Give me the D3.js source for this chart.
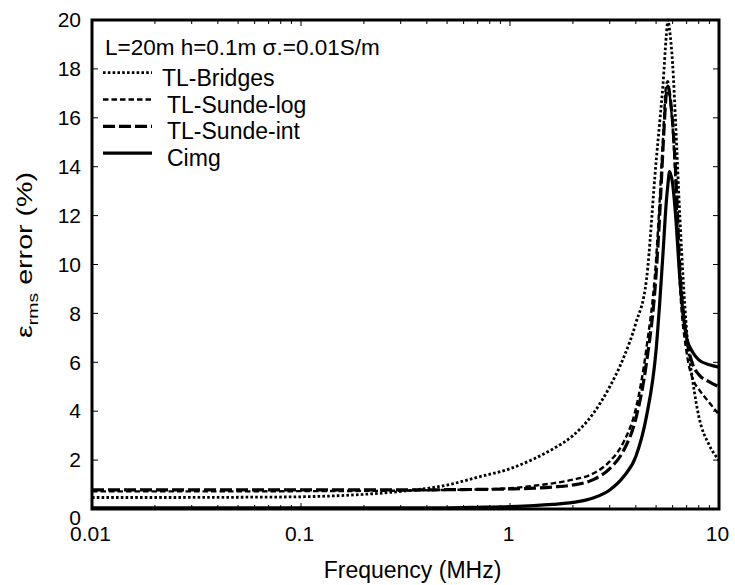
<!DOCTYPE html>
<html>
<head>
<meta charset="UTF-8">
<title>rms error vs frequency</title>
<script src="https://cdn.jsdelivr.net/npm/d3@7"></script>
<style>
  body { margin: 0; background: #fff; }
  text { font-family: Arial, "Liberation Sans", sans-serif; fill: #000; }
</style>
</head>
<body>
<script>
// frequency grid (MHz), shared by all curves
var freq = [0.01, 0.02, 0.05, 0.1, 0.2, 0.3, 0.5, 0.7, 1, 1.3, 1.6, 2, 2.5, 3, 3.5, 4, 4.5,
            5, 5.2, 5.4, 5.6, 5.7, 5.8, 6.0, 6.2, 6.5, 7, 7.5, 8, 9, 10];

// rms error (%)
var bridges  = [0.47, 0.47, 0.48, 0.5, 0.6, 0.72, 0.98, 1.3, 1.65, 2.05, 2.45, 3.0, 3.9, 5.0, 6.2, 7.6, 9.4,
                14.2, 15.8, 17.4, 19.4, 20.0, 19.6, 18.2, 15.8, 11.9, 7.3, 5.2, 3.8, 2.6, 2.0];
var sundeLog = [0.72, 0.72, 0.72, 0.73, 0.74, 0.75, 0.78, 0.8, 0.85, 0.95, 1.05, 1.2, 1.45, 1.95, 2.75, 4.1, 6.6,
                10.2, 12.6, 15.2, 17.4, 17.5, 17.0, 15.6, 13.4, 9.2, 6.4, 5.3, 4.9, 4.35, 3.85];
var sundeInt = [0.78, 0.78, 0.78, 0.78, 0.78, 0.78, 0.79, 0.8, 0.82, 0.85, 0.9, 0.98, 1.2, 1.65, 2.4, 3.7, 6.0,
                9.6, 12.0, 14.8, 17.0, 17.3, 17.0, 15.8, 13.8, 9.8, 7.0, 5.9, 5.5, 5.2, 5.0];
var cimg     = [0.05, 0.05, 0.05, 0.05, 0.05, 0.05, 0.05, 0.07, 0.1, 0.14, 0.19, 0.27, 0.45, 0.78, 1.33, 2.15, 3.8,
                6.5, 8.4, 10.5, 12.6, 13.3, 13.8, 13.3, 12.0, 9.4, 7.0, 6.4, 6.1, 5.9, 5.8];

var names = ["TL-Bridges", "TL-Sunde-log", "TL-Sunde-int", "Cimg"];
var yTicks = [0, 2, 4, 6, 8, 10, 12, 14, 16, 18, 20];
var xLabels = [0.01, 0.1, 1, 10];

var W = 735, H = 585;
var mL = 92, mR = 719, mT = 20, mB = 509;

var svg = d3.select("body").append("svg")
    .attr("width", W)
    .attr("height", H);

var x = d3.scaleLog().domain([0.01, 10]).range([mL, mR]);
var y = d3.scaleLinear().domain([0, 20]).range([mB, mT]);

// line styles
var styles = [
  { w: 2.8, dash: "2.6,2.2" },
  { w: 2.4, dash: "5.5,3" },
  { w: 3.2, dash: "12,4" },
  { w: 3.2, dash: null }
];
var series = [bridges, sundeLog, sundeInt, cimg];

var allX = x.ticks();
var fmt = function (d) { return xLabels.indexOf(d) >= 0 ? String(d) : ""; };

var gx = svg.append("g").attr("transform", "translate(0," + mB + ")")
    .call(d3.axisBottom(x).tickValues(allX).tickSize(0).tickFormat(fmt).tickPadding(24));
var gy = svg.append("g").attr("transform", "translate(" + mL + ",0)")
    .call(d3.axisLeft(y).tickValues(yTicks).tickSize(0).tickPadding(11));

[gx, gy].forEach(function (g) {
  g.select(".domain").remove();
  g.selectAll("text").style("font-size", "21px").style("font-family", "Arial, 'Liberation Sans', sans-serif");
});
gx.selectAll("text").attr("dy", "0.4em").attr("transform", "translate(-2,0)");
gy.selectAll(".tick").filter(function (d) { return d === 0; }).select("text").attr("dy", "0.75em");

// tick marks drawn inward on all four sides
function major(d) { return xLabels.indexOf(d) >= 0; }
var tk = svg.append("g").attr("stroke", "#000").attr("stroke-width", 1);
allX.forEach(function (d) {
  var len = major(d) ? 6 : 4;
  tk.append("line").attr("x1", x(d)).attr("x2", x(d)).attr("y1", mB).attr("y2", mB - len);
  tk.append("line").attr("x1", x(d)).attr("x2", x(d)).attr("y1", mT).attr("y2", mT + len);
});
yTicks.forEach(function (d) {
  tk.append("line").attr("y1", y(d)).attr("y2", y(d)).attr("x1", mL).attr("x2", mL + 6);
  tk.append("line").attr("y1", y(d)).attr("y2", y(d)).attr("x1", mR).attr("x2", mR - 6);
});

// curves
var line = d3.line()
    .x(function (d, i) { return x(freq[i]); })
    .y(function (d) { return y(d); })
    .curve(d3.curveMonotoneX);

svg.append("defs").append("clipPath").attr("id", "clip")
  .append("rect").attr("x", mL).attr("y", mT - 2).attr("width", mR - mL).attr("height", mB - mT + 2);

svg.append("g").attr("clip-path", "url(#clip)")
  .selectAll("path").data(series).enter().append("path")
    .attr("d", line)
    .attr("fill", "none")
    .attr("stroke", "#000")
    .attr("stroke-width", function (d, i) { return styles[i].w; })
    .attr("stroke-dasharray", function (d, i) { return styles[i].dash; });

// frame
svg.append("rect")
    .attr("x", mL).attr("y", mT)
    .attr("width", mR - mL).attr("height", mB - mT)
    .attr("fill", "none").attr("stroke", "#000").attr("stroke-width", 3);

// legend
svg.append("text").attr("x", 105).attr("y", 55).style("font-size", "22.5px")
    .text("L=20m h=0.1m σ.=0.01S/m");

var lg = svg.append("g");
names.forEach(function (n, i) {
  var ly = 72.7 + i * 26.8;
  lg.append("line").attr("x1", 103).attr("x2", 152).attr("y1", ly).attr("y2", ly)
    .attr("stroke", "#000")
    .attr("stroke-width", styles[i].w)
    .attr("stroke-dasharray", styles[i].dash);
  lg.append("text").attr("x", i === 0 ? 162 : 167).attr("y", ly + 13)
    .style("font-size", "23px").text(n);
});

// axis titles
svg.append("text").attr("x", (mL + mR) / 2 + 7).attr("y", 578)
    .attr("text-anchor", "middle").style("font-size", "23px")
    .text("Frequency (MHz)");

var yt = svg.append("text")
    .attr("transform", "translate(32,255)rotate(-90)scale(1.3,1)")
    .attr("text-anchor", "middle").style("font-size", "22px");
yt.append("tspan").text("ε");
yt.append("tspan").attr("dy", 6).style("font-size", "15px").text("rms");
yt.append("tspan").attr("dy", -6).text(" error (%)");
</script>
</body>
</html>
